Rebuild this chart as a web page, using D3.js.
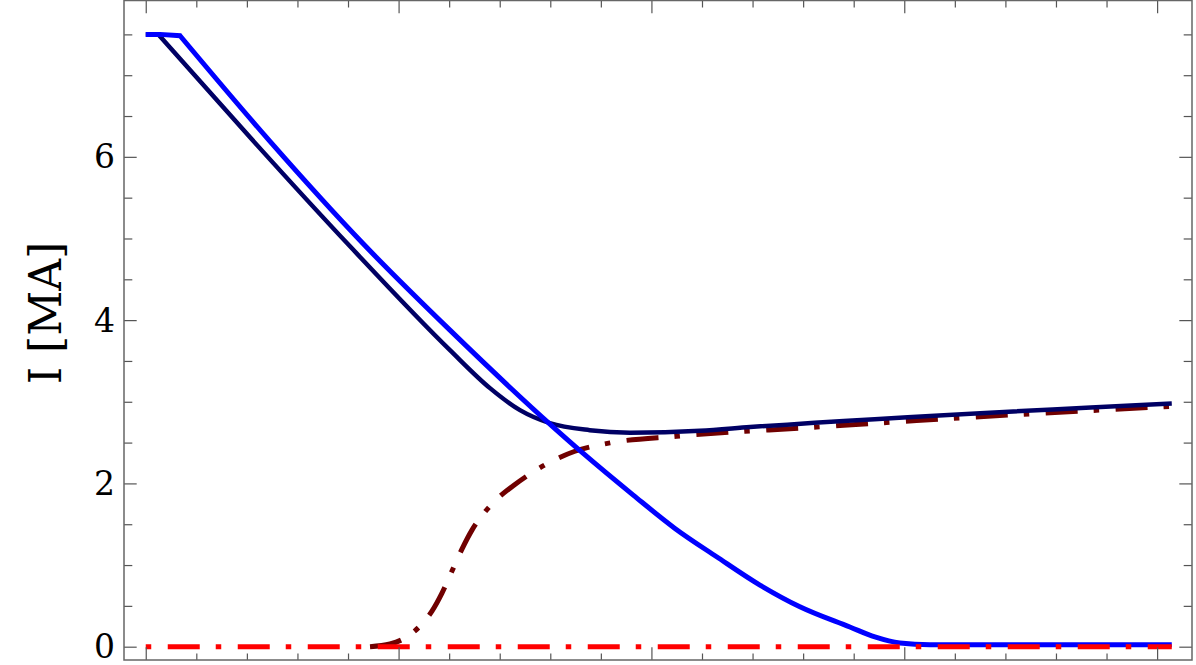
<!DOCTYPE html>
<html>
<head>
<meta charset="utf-8">
<script src="https://cdn.jsdelivr.net/npm/d3@7"></script>
<style>
  html, body { margin: 0; padding: 0; background: #fff; }
  svg { display: block; }
</style>
</head>
<body>
<svg id="chart"></svg>
<script>
// x is in tick units (21 ticks, no labels shown), y is current in MA
const blueT = [0, 0.283, 0.678, 2.457, 4.296, 6.016, 8.053, 8.652, 9.640, 10.465, 11.289, 12.145, 12.936, 13.925, 14.419, 14.913, 15.506, 20.29];
const blueI = [7.5, 7.5, 7.483, 6.189, 4.938, 3.877, 2.693, 2.367, 1.857, 1.449, 1.102, 0.755, 0.489, 0.241, 0.119, 0.045, 0.024, 0.024];
const blueKink = 2; // index where the flat top ends

const navyT = [0, 0.25, 2.062, 4.039, 6.016, 6.807, 7.40, 7.99, 8.78, 9.575, 10.96, 11.95, 20.29];
const navyI = [7.5, 7.5, 6.239, 4.904, 3.632, 3.167, 2.897, 2.738, 2.652, 2.622, 2.645, 2.69, 2.98];
const navyKink = 1;

const maroonT = [4.435, 4.830, 5.126, 5.423, 5.660, 5.858, 6.056, 6.253, 6.451, 6.688, 6.965, 7.281, 7.637, 7.993, 8.487, 9.179, 10.498, 13.266, 15.243, 20.29];
const maroonI = [0, 0.033, 0.106, 0.253, 0.436, 0.657, 0.926, 1.195, 1.428, 1.636, 1.819, 1.978, 2.131, 2.260, 2.394, 2.496, 2.578, 2.69, 2.77, 2.945];

const redT = [0, 20.29];
const redI = [0, 0];

const xTicks = d3.range(0, 21);
const xMajor = [0, 5, 10, 15, 20];
const yTicks = d3.range(0, 8, 0.5);
const yMajor = [0, 2, 4, 6];

const width = 1196, height = 665;
const margin = { top: 0.5, left: 124, bottom: 5, right: 4 };
const iwidth = width - margin.left - margin.right;
const iheight = height - margin.top - margin.bottom;

const svg = d3.select('#chart').attr('width', width).attr('height', height);
const g = svg.append('g').attr('transform', `translate(${margin.left},${margin.top})`);

const x = d3.scaleLinear().domain([-0.43, 20.69]).range([0, iwidth]);
const y = d3.scaleLinear().domain([-0.163, 7.915]).range([iheight, 0]);

const straight = d3.line()
  .x(d => x(d[0]))
  .y(d => y(d[1]));

const smooth = d3.line()
  .x(d => x(d[0]))
  .y(d => y(d[1]))
  .curve(d3.curveMonotoneX);

const zip = (ts, vs) => ts.map((t, i) => [t, vs[i]]);

// straight up to the kink, smooth after it, one path
function kinked(pts, k) {
  return straight(pts.slice(0, k + 1)) + smooth(pts.slice(k)).replace(/^M[^C L]*/, '');
}

// clip to the frame
svg.append('defs').append('clipPath').attr('id', 'clip')
  .append('rect').attr('width', iwidth).attr('height', iheight);
const plot = g.append('g').attr('clip-path', 'url(#clip)');

plot.append('path')
  .attr('d', smooth(zip(maroonT, maroonI)))
  .attr('fill', 'none')
  .attr('stroke', '#700000')
  .attr('stroke-width', 5)
  .attr('stroke-dasharray', '32,16,5.5,16.5');

plot.append('path')
  .attr('d', kinked(zip(navyT, navyI), navyKink))
  .attr('fill', 'none')
  .attr('stroke', '#000064')
  .attr('stroke-width', 4.5);

plot.append('path')
  .attr('d', kinked(zip(blueT, blueI), blueKink))
  .attr('fill', 'none')
  .attr('stroke', '#0000ff')
  .attr('stroke-width', 5);

plot.append('path')
  .attr('d', straight(zip(redT, redI)))
  .attr('fill', 'none')
  .attr('stroke', '#ff0000')
  .attr('stroke-width', 5)
  .attr('stroke-dasharray', '5.5,16.5,32,16');

// axes: ticks point inward, minor and major sets
const tickColor = '#555';
function styleAxis(sel) {
  sel.select('.domain').remove();
  sel.selectAll('.tick line').attr('stroke', tickColor).attr('stroke-width', 1.2);
}

const minorY = yTicks.filter(v => !yMajor.includes(v));
const minorX = xTicks.filter(v => !xMajor.includes(v));

g.append('g').call(d3.axisLeft(y).tickValues(minorY).tickSizeInner(-8.3).tickSizeOuter(0).tickFormat(''))
  .call(styleAxis);
const yAxis = g.append('g')
  .call(d3.axisLeft(y).tickValues(yMajor).tickSizeInner(-12.7).tickSizeOuter(0).tickPadding(9).tickFormat(d3.format('d')))
  .call(styleAxis);
yAxis.selectAll('.tick text')
  .attr('dy', '0.33em')
  .style('font-family', '"DejaVu Serif", serif')
  .style('font-size', '33px')
  .attr('fill', '#000');

g.append('g').attr('transform', `translate(${iwidth},0)`)
  .call(d3.axisRight(y).tickValues(minorY).tickSizeInner(-8.3).tickSizeOuter(0).tickFormat(''))
  .call(styleAxis);
g.append('g').attr('transform', `translate(${iwidth},0)`)
  .call(d3.axisRight(y).tickValues(yMajor).tickSizeInner(-12.7).tickSizeOuter(0).tickFormat(''))
  .call(styleAxis);

g.append('g').attr('transform', `translate(0,${iheight})`)
  .call(d3.axisBottom(x).tickValues(minorX).tickSizeInner(-6.5).tickSizeOuter(0).tickFormat(''))
  .call(styleAxis);
g.append('g').attr('transform', `translate(0,${iheight})`)
  .call(d3.axisBottom(x).tickValues(xMajor).tickSizeInner(-12.7).tickSizeOuter(0).tickFormat(''))
  .call(styleAxis);
g.append('g')
  .call(d3.axisTop(x).tickValues(minorX).tickSizeInner(-7).tickSizeOuter(0).tickFormat(''))
  .call(styleAxis);
g.append('g')
  .call(d3.axisTop(x).tickValues(xMajor).tickSizeInner(-12.7).tickSizeOuter(0).tickFormat(''))
  .call(styleAxis);

// frame
g.append('rect')
  .attr('width', iwidth)
  .attr('height', iheight)
  .attr('fill', 'none')
  .attr('stroke', '#666')
  .attr('stroke-width', 1.5);

svg.append('text')
  .attr('transform', 'translate(61,313) rotate(-90)')
  .attr('text-anchor', 'middle')
  .style('font-family', '"DejaVu Serif", serif')
  .style('font-size', '44px')
  .attr('fill', '#000')
  .text('I [MA]');
</script>
</body>
</html>
